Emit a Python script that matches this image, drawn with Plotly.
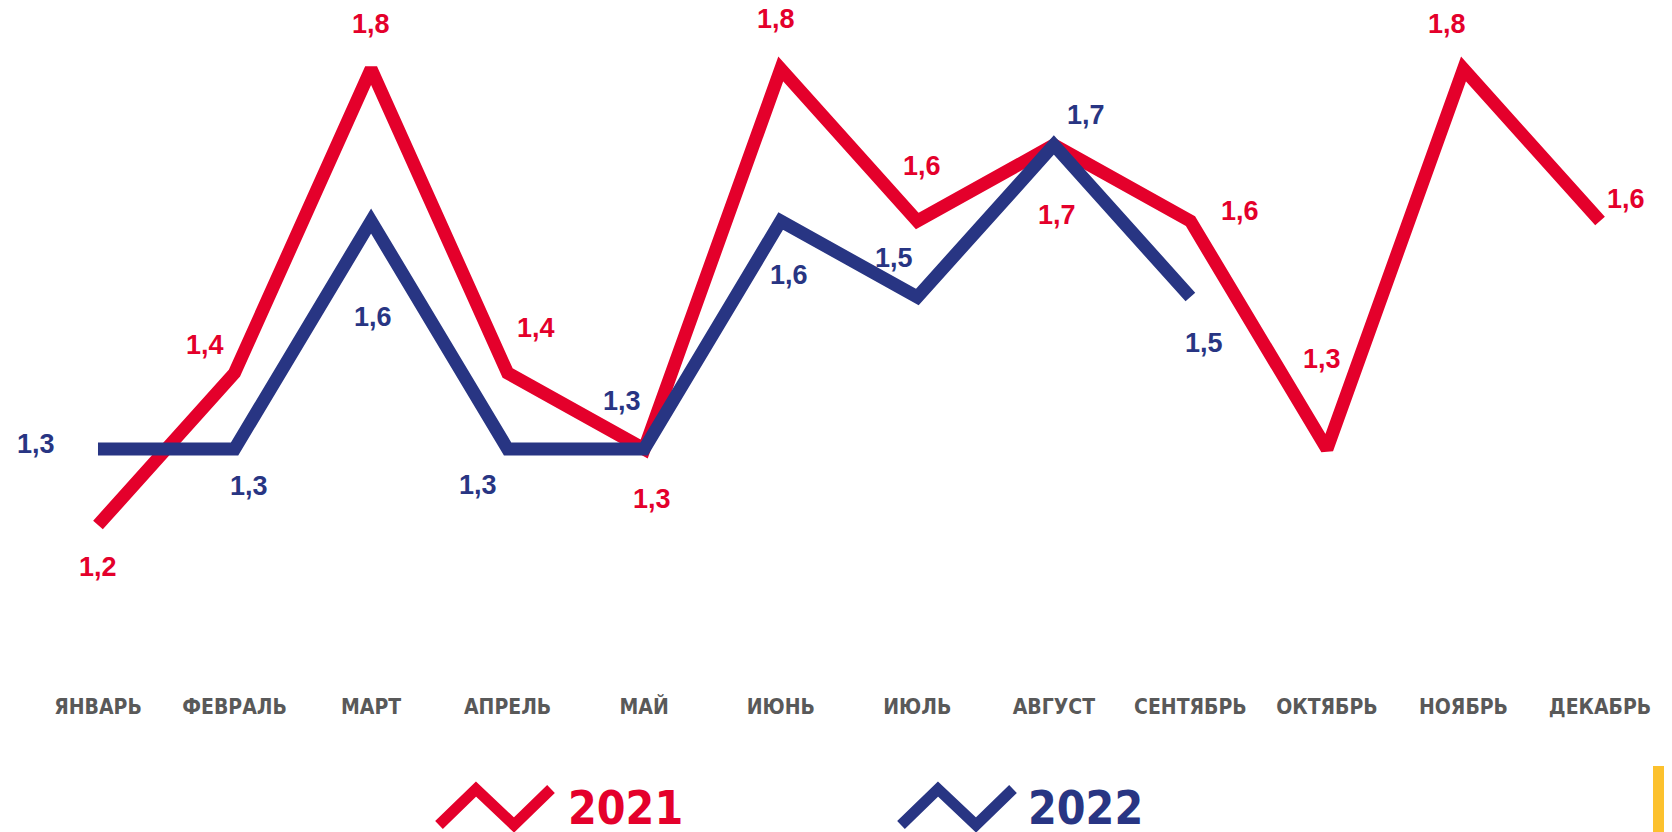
import plotly.graph_objects as go

months = ["ЯНВАРЬ", "ФЕВРАЛЬ", "МАРТ", "АПРЕЛЬ", "МАЙ", "ИЮНЬ", "ИЮЛЬ",
          "АВГУСТ", "СЕНТЯБРЬ", "ОКТЯБРЬ", "НОЯБРЬ", "ДЕКАБРЬ"]
values_2021 = [1.2, 1.4, 1.8, 1.4, 1.3, 1.8, 1.6, 1.7, 1.6, 1.3, 1.8, 1.6]
values_2022 = [1.3, 1.3, 1.6, 1.3, 1.3, 1.6, 1.5, 1.7, 1.5]

RED = "#E4002B"
BLUE = "#283583"
NARROW = "DejaVu Sans Condensed, Liberation Sans Narrow, Arial Narrow"
SANS = "Liberation Sans, Arial"

# label offsets (pixels) per point
off_2021 = [(0, -42), (-30, 28), (0, 45), (28, 45), (8, -50), (-5, 50),
            (5, 55), (3, -70), (50, 10), (-5, 90), (-16, 45), (26, 22)]
off_2022 = [(-62, 5), (14, -37), (2, -96), (-30, -36), (-22, 48), (8, -54),
            (-23, 39), (32, 30), (14, -46)]

fig = go.Figure()
fig.add_trace(go.Scatter(x=months, y=values_2021, mode="lines",
                         line=dict(color=RED, width=13), name="2021"))
fig.add_trace(go.Scatter(x=months[:len(values_2022)], y=values_2022, mode="lines",
                         line=dict(color=BLUE, width=13), name="2022"))

ann = []
for m, v, (dx, dy) in zip(months, values_2021, off_2021):
    ann.append(dict(x=m, y=v, text="<b>" + f"{v:.1f}".replace(".", ",") + "</b>",
                    showarrow=False, xshift=dx, yshift=dy,
                    font=dict(family=SANS, size=27, color=RED)))
for m, v, (dx, dy) in zip(months, values_2022, off_2022):
    ann.append(dict(x=m, y=v, text="<b>" + f"{v:.1f}".replace(".", ",") + "</b>",
                    showarrow=False, xshift=dx, yshift=dy,
                    font=dict(family=SANS, size=27, color=BLUE)))

# figure is placed at an 8px page offset; work in figure pixels
W, H = 1664, 824
PH = 684           # plot area height
MB = H - PH


def px(x):
    return (x - 8) / W


def py(y):
    return 1 - (y - 8) / PH


ann.append(dict(xref="paper", yref="paper", x=px(566), y=py(808), xanchor="left",
                yanchor="middle", text="<b>2021</b>", showarrow=False,
                font=dict(family=NARROW, size=46, color=RED)))
ann.append(dict(xref="paper", yref="paper", x=px(1026), y=py(808), xanchor="left",
                yanchor="middle", text="<b>2022</b>", showarrow=False,
                font=dict(family=NARROW, size=46, color=BLUE)))


def zig(x0, color):
    pts = [(x0, 825), (x0 + 37, 789), (x0 + 75, 825), (x0 + 112, 789)]
    path = "M " + " L ".join(f"{px(a)},{py(b)}" for a, b in pts)
    return dict(type="path", xref="paper", yref="paper", path=path,
                line=dict(color=color, width=11))


shapes = [zig(439, RED), zig(901, BLUE),
          dict(type="rect", xref="paper", yref="paper", x0=px(1653), x1=px(1672),
               y0=py(832), y1=py(766), fillcolor="#FCC12D", line=dict(width=0))]

fig.update_layout(
    width=W, height=H,
    margin=dict(l=0, r=0, t=0, b=MB),
    paper_bgcolor="white", plot_bgcolor="white",
    showlegend=False,
    annotations=ann, shapes=shapes,
    xaxis=dict(range=[-0.659, 11.527], showgrid=False, zeroline=False, showline=False,
               ticks="", tickfont=dict(family=NARROW, size=21, color="#595959"),
               tickprefix="<b>", ticksuffix="</b>"),
    yaxis=dict(range=[0.9803, 1.8803], showgrid=False, zeroline=False, showline=False,
               showticklabels=False),
)
fig.write_html("out.html")
